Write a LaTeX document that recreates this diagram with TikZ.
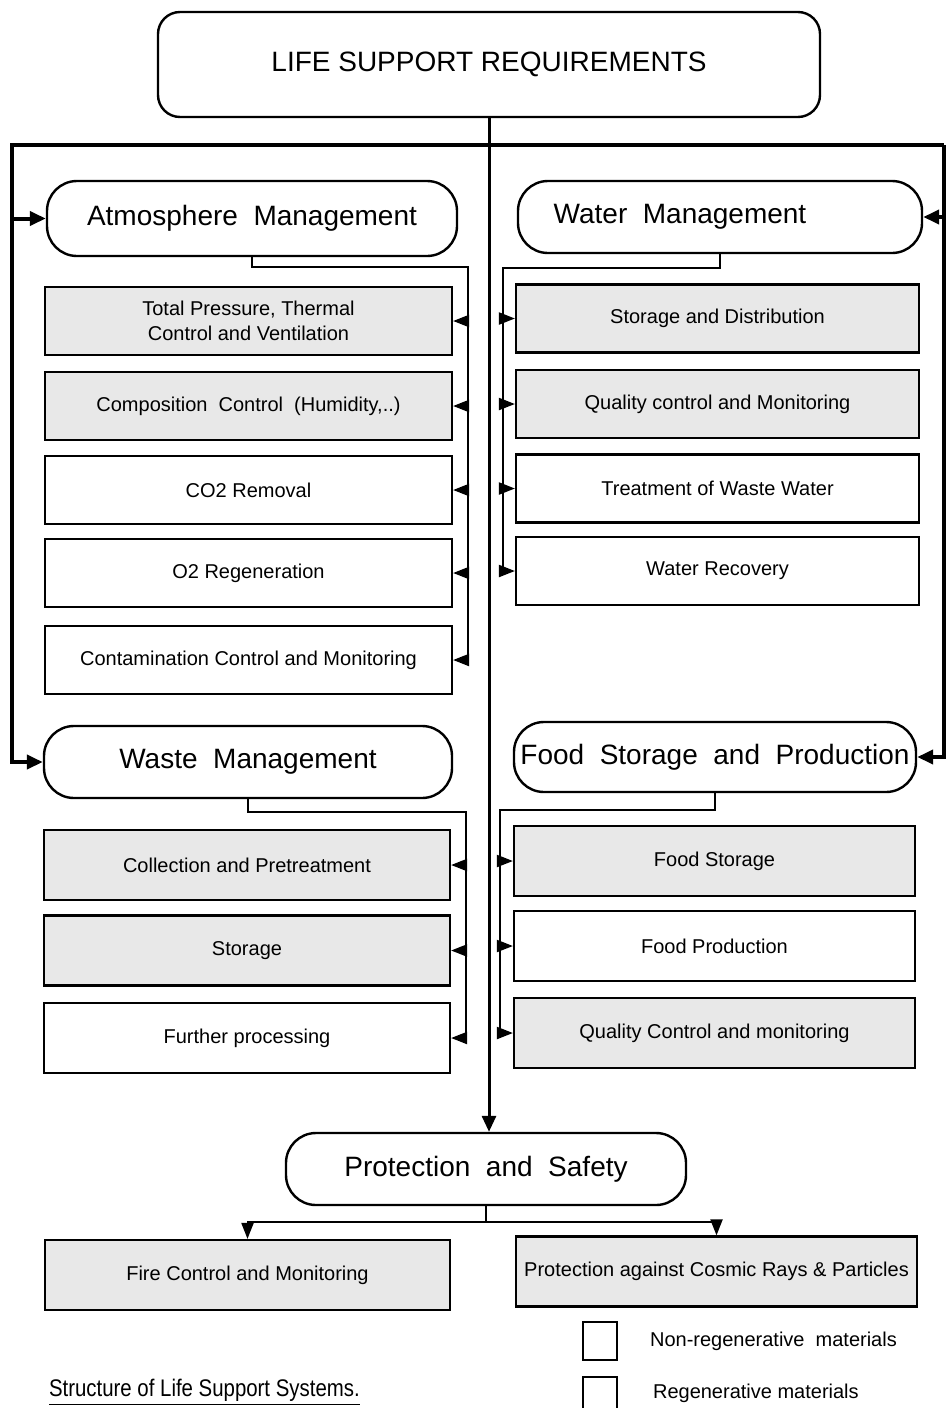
\documentclass[tikz,border=0pt]{standalone}
\usepackage{fontspec}
\setmainfont{Liberation Sans}
\newfontfamily\narrowfont[FakeStretch=0.85]{Liberation Sans}
\usetikzlibrary{arrows.meta,positioning}

\tikzset{
	head/.style={draw,line width=1.2pt,rounded corners=15pt,inner sep=0pt,font=\fontsize{14}{16}\selectfont},
	sub/.style={draw,line width=1.1pt,inner sep=0pt,align=center,minimum height=34pt,font=\fontsize{10}{12.5}\selectfont},
	stipple/.style={sub,fill=black!9},
	bus/.style={line width=1pt},
	main/.style={line width=2pt},
	bigtip/.style={-{Triangle[length=8pt,width=7pt]}},
	subtip/.style={-{Triangle[length=8pt,width=6pt]}}
}

\begin{document}
\begin{tikzpicture}[x=0.5pt,y=-0.5pt]
	\useasboundingbox (0,0) rectangle (948,1408);

	\node[head,rounded corners=11pt,minimum width=331pt,minimum height=52.5pt] (req) at (489,64.5) {LIFE SUPPORT REQUIREMENTS};

	\node[head,minimum width=205pt,minimum height=37.5pt] (atm) at (252,218.5) {Atmosphere\ \ Management};
	\node[head,minimum width=202pt,minimum height=36pt] (water) at (720,217) {\hspace{-40pt}Water\ \ Management};
	\node[head,minimum width=204pt,minimum height=36pt] (waste) at (248,762) {Waste\ \ Management};
	\node[head,minimum width=201pt,minimum height=35pt] (food) at (715,757) {Food\ \ Storage\ \ and\ \ Production};
	\node[head,minimum width=200pt,minimum height=36pt] (prot) at (486,1169) {Protection\ \ and\ \ Safety};

	\node[stipple,minimum width=203.5pt] (a1) at (248.5,321) {Total Pressure, Thermal\\Control and Ventilation};
	\node[stipple,minimum width=203.5pt] (a2) at (248.5,406) {Composition\ \ Control\ \ (Humidity,..)};
	\node[sub,minimum width=203.5pt] (a3) at (248.5,490) {CO2 Removal};
	\node[sub,minimum width=203.5pt] (a4) at (248.5,573) {O2 Regeneration};
	\node[sub,minimum width=203.5pt] (a5) at (248.5,660) {Contamination Control and Monitoring};

	\node[stipple,minimum width=201.5pt] (w1) at (717.5,318.5) {Storage and Distribution};
	\node[stipple,minimum width=201.5pt] (w2) at (717.5,404) {Quality control and Monitoring};
	\node[sub,minimum width=201.5pt] (w3) at (717.5,488.5) {Treatment of Waste Water};
	\node[sub,minimum width=201.5pt] (w4) at (717.5,571) {Water Recovery};

	\node[stipple,minimum width=203pt,minimum height=35pt] (s1) at (247,865) {Collection and Pretreatment};
	\node[stipple,minimum width=203pt,minimum height=35pt] (s2) at (247,950.5) {Storage};
	\node[sub,minimum width=203pt,minimum height=35pt] (s3) at (247,1038) {Further processing};

	\node[stipple,minimum width=200.5pt,minimum height=35pt] (f1) at (714.5,861) {Food Storage};
	\node[sub,minimum width=200.5pt,minimum height=35pt] (f2) at (714.5,946) {Food Production};
	\node[stipple,minimum width=200.5pt,minimum height=35pt] (f3) at (714.5,1033) {Quality Control and monitoring};

	\node[stipple,minimum width=202.5pt,minimum height=35pt] (fire) at (247.5,1275) {Fire Control and Monitoring};
	\node[stipple,minimum width=200.5pt,minimum height=35pt] (cosmic) at (716.5,1271.5) {Protection against Cosmic Rays \& Particles};

	\node[draw,line width=1pt,inner sep=0pt,minimum width=17pt,minimum height=19pt] (nonreg) at (600,1341) {};
	\node[draw,line width=1pt,inner sep=0pt,minimum width=17pt,minimum height=19pt] (reg) at (600,1396) {};
	\node[anchor=west,font=\fontsize{10}{12}\selectfont] (nonregtxt) at (643,1341) {Non-regenerative\ \ materials};
	\node[anchor=west,font=\fontsize{10}{12}\selectfont] (regtxt) at (646,1393) {Regenerative materials};
	\node[anchor=west,font=\narrowfont\fontsize{12}{14}\selectfont] (title) at (42,1392) {\underline{Structure of Life Support Systems.}};

	\coordinate (barL) at (12,145);
	\coordinate (barR) at (944,145);
	\draw[main,bigtip] (barR) -- (barL) -- (barL |- waste.west) -- (waste.west);
	\draw[main,bigtip] (barL |- atm.west) -- (atm.west);
	\draw[main,bigtip] (barR) -- (barR |- food.east) -- (food.east);
	\draw[main,bigtip] (barR |- water.east) -- (water.east);
	\draw[line width=1.5pt,bigtip] (req.south) -- (req.south |- prot.north);

	\coordinate (abus) at (468,267);
	\coordinate (wbus) at (503,268);
	\coordinate (sbus) at (466,812);
	\coordinate (fbus) at (500,810);
	\draw[bus] (atm.south) |- (abus) -- (abus |- a5.east);
	\draw[bus] (water.south) |- (wbus) -- (wbus |- w4.west);
	\draw[bus] (waste.south) |- (sbus) -- (sbus |- s3.east);
	\draw[bus] (food.south) |- (fbus) -- (fbus |- f3.west);
	\foreach \n in {a1,a2,a3,a4,a5}
		\draw[bus,subtip] (abus |- \n.east) -- (\n.east);
	\foreach \n in {w1,w2,w3,w4}
		\draw[bus,subtip] (wbus |- \n.west) -- (\n.west);
	\foreach \n in {s1,s2,s3}
		\draw[bus,subtip] (sbus |- \n.east) -- (\n.east);
	\foreach \n in {f1,f2,f3}
		\draw[bus,subtip] (fbus |- \n.west) -- (\n.west);

	\coordinate (split) at (486,1222);
	\draw[bus] (prot.south) -- (split);
	\draw[bus,subtip] (split) -| (fire.north);
	\draw[bus,subtip] (split) -| (cosmic.north);
\end{tikzpicture}
\end{document}
